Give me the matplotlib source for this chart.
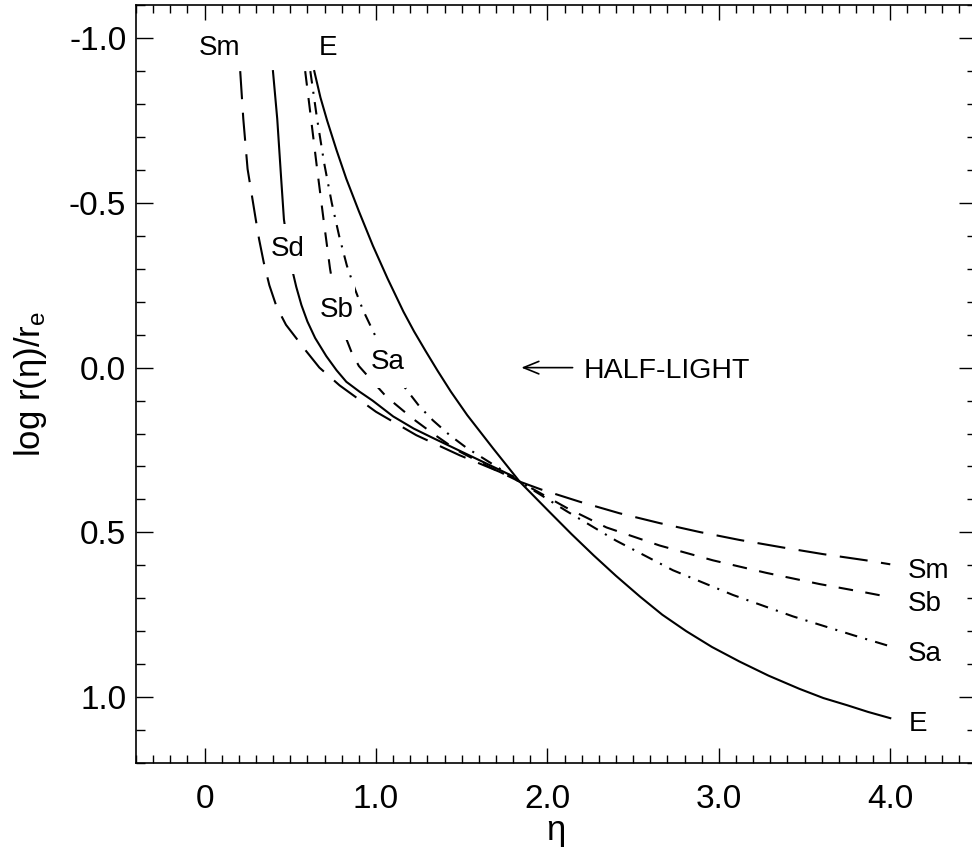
import numpy as np
import matplotlib
matplotlib.use('Agg')
import matplotlib.pyplot as plt
from matplotlib.ticker import FixedLocator, FixedFormatter, MultipleLocator

plt.rcParams['font.family'] = ['Liberation Sans', 'DejaVu Sans']
plt.rcParams['mathtext.fontset'] = 'custom'
plt.rcParams['mathtext.rm'] = 'Liberation Sans'
plt.rcParams['mathtext.it'] = 'Liberation Sans:italic'

# curves: eta vs log r(eta)/r_e
eta_E = [0.640, 0.676, 0.715, 0.77, 0.827, 0.90, 0.982, 1.068, 1.16, 1.222, 1.29, 1.36, 1.437, 1.532,
         1.683, 1.838, 2.01, 2.14, 2.27, 2.40, 2.54, 2.67, 2.81, 2.96, 3.12, 3.29, 3.47, 3.61, 3.75, 3.87, 4.0]
logr_E = [-0.90, -0.82, -0.75, -0.66, -0.573, -0.475, -0.37, -0.27, -0.17, -0.11, -0.05, 0.01, 0.073, 0.144,
          0.245, 0.346, 0.437, 0.505, 0.57, 0.632, 0.695, 0.75, 0.80, 0.848, 0.892, 0.935, 0.975, 1.003, 1.025,
          1.045, 1.064]

eta_Sa = [0.617, 0.655, 0.698, 0.742, 0.785, 0.83, 0.876, 0.924, 0.99, 1.06, 1.138, 1.254, 1.332, 1.43,
          1.527, 1.72, 1.838, 2.11, 2.40, 2.732, 3.082, 3.432, 3.783, 4.0]
logr_Sa = [-0.90, -0.76, -0.62, -0.50, -0.40, -0.31, -0.24, -0.175, -0.103, -0.03, 0.04, 0.118, 0.16, 0.205,
           0.243, 0.306, 0.346, 0.435, 0.525, 0.615, 0.69, 0.755, 0.812, 0.846]

eta_Sb = [0.587, 0.620, 0.655, 0.694, 0.732, 0.765, 0.81, 0.855, 0.90, 0.982, 1.06, 1.215, 1.332, 1.47,
          1.624, 1.838, 2.11, 2.344, 2.655, 2.966, 3.277, 3.588, 3.86, 4.0]
logr_Sb = [-0.90, -0.76, -0.61, -0.45, -0.30, -0.20, -0.11, -0.05, -0.005, 0.043, 0.088, 0.155, 0.200, 0.250,
           0.292, 0.346, 0.425, 0.485, 0.54, 0.585, 0.623, 0.657, 0.683, 0.697]

eta_Sd = [0.399, 0.424, 0.447, 0.463, 0.485, 0.51, 0.535, 0.565, 0.60, 0.645, 0.71, 0.77, 0.827, 0.904,
          0.98, 1.10, 1.22, 1.33, 1.527, 1.72, 1.80]
logr_Sd = [-0.90, -0.755, -0.573, -0.45, -0.37, -0.30, -0.245, -0.19, -0.14, -0.09, -0.035, 0.008, 0.043, 0.073,
           0.10, 0.148, 0.185, 0.213, 0.262, 0.31, 0.33]

eta_Sm = [0.208, 0.226, 0.251, 0.298, 0.318, 0.345, 0.378, 0.42, 0.475, 0.537, 0.593, 0.67, 0.788, 1.0,
          1.235, 1.488, 1.72, 1.838, 1.964, 2.188, 2.42, 2.655, 2.888, 3.12, 3.374, 3.607, 3.86, 4.0]
logr_Sm = [-0.90, -0.755, -0.603, -0.452, -0.39, -0.32, -0.25, -0.185, -0.13, -0.088, -0.05, 0.0, 0.054, 0.134,
           0.205, 0.266, 0.316, 0.346, 0.37, 0.407, 0.442, 0.472, 0.499, 0.523, 0.546, 0.566, 0.585, 0.597]

xtick_vals = [0, 1, 2, 3, 4]
xtick_text = ['0', '1.0', '2.0', '3.0', '4.0']
ytick_vals = [-1.0, -0.5, 0.0, 0.5, 1.0]
ytick_text = ['-1.0', '-0.5', '0.0', '0.5', '1.0']

fig = plt.figure(figsize=(9.72, 8.59), dpi=100)
ax = fig.add_axes([0.1399, 0.1118, 0.8642, 0.8821])

lw = 1.5
ax.plot(eta_E, logr_E, color='black', lw=lw, linestyle='-')
ax.plot(eta_Sa, logr_Sa, color='black', lw=lw, linestyle=(0, (6, 4, 1, 4)))
ax.plot(eta_Sb, logr_Sb, color='black', lw=lw, linestyle=(0, (7, 6)))
ax.plot(eta_Sd, logr_Sd, color='black', lw=lw, linestyle='-')
ax.plot(eta_Sm, logr_Sm, color='black', lw=lw, linestyle=(0, (13.5, 6.5)))

ax.set_xlim(-0.4, 4.5)
ax.set_ylim(1.2, -1.1)

lab = dict(fontsize=20, va='center_baseline')
# labels at the top
ax.text(0.09, -0.98, 'Sm', ha='center', **lab)
ax.text(0.72, -0.98, 'E', ha='center', **lab)
# labels on the curves, erasing the line under them
ax.text(0.486, -0.37, 'Sd', ha='center',
        bbox=dict(boxstyle='square,pad=0.05', fc='white', ec='none', mutation_aspect=8.6), **lab)
ax.text(0.772, -0.184, 'Sb', ha='center',
        bbox=dict(boxstyle='square,pad=0.05', fc='white', ec='none', mutation_aspect=12), **lab)
ax.text(1.07, -0.027, 'Sa', ha='center',
        bbox=dict(boxstyle='square,pad=0.05', fc='white', ec='none', mutation_aspect=9.4), **lab)
# labels at the right
ax.text(4.10, 0.609, 'Sm', ha='left', **lab)
ax.text(4.10, 0.708, 'Sb', ha='left', **lab)
ax.text(4.10, 0.86, 'Sa', ha='left', **lab)
ax.text(4.11, 1.074, 'E', ha='left', **lab)

ax.annotate('', xy=(1.848, 0.0), xytext=(2.147, 0.0),
            arrowprops=dict(arrowstyle='->,head_length=1.1,head_width=0.45',
                            lw=1.2, color='black', shrinkA=0, shrinkB=0, mutation_scale=10))
ax.text(2.21, 0.0, 'HALF-LIGHT', ha='left', fontsize=20.5, va='center_baseline')

ax.xaxis.set_major_locator(FixedLocator(xtick_vals))
ax.xaxis.set_major_formatter(FixedFormatter(xtick_text))
ax.xaxis.set_minor_locator(MultipleLocator(0.1))
ax.yaxis.set_major_locator(FixedLocator(ytick_vals))
ax.yaxis.set_major_formatter(FixedFormatter(ytick_text))
ax.yaxis.set_minor_locator(MultipleLocator(0.1))

ax.tick_params(axis='both', which='both', direction='in', top=True, right=True,
               labelsize=24, width=1.0, colors='black')
ax.tick_params(axis='x', which='major', length=10.5, pad=15.5)
ax.tick_params(axis='x', which='minor', length=5.5)
ax.tick_params(axis='y', which='major', length=12.5, pad=7)
ax.tick_params(axis='y', which='minor', length=6.5)
for s in ax.spines.values():
    s.set_linewidth(1.2)

ax.set_xlabel('η', fontsize=25)
ax.set_ylabel(r'log r(η)/r$_\mathrm{e}$', fontsize=25)
ax.xaxis.set_label_coords(0.5, -0.068)
ax.yaxis.set_label_coords(-0.103, 0.5)

fig.savefig('out.png', dpi=100)
